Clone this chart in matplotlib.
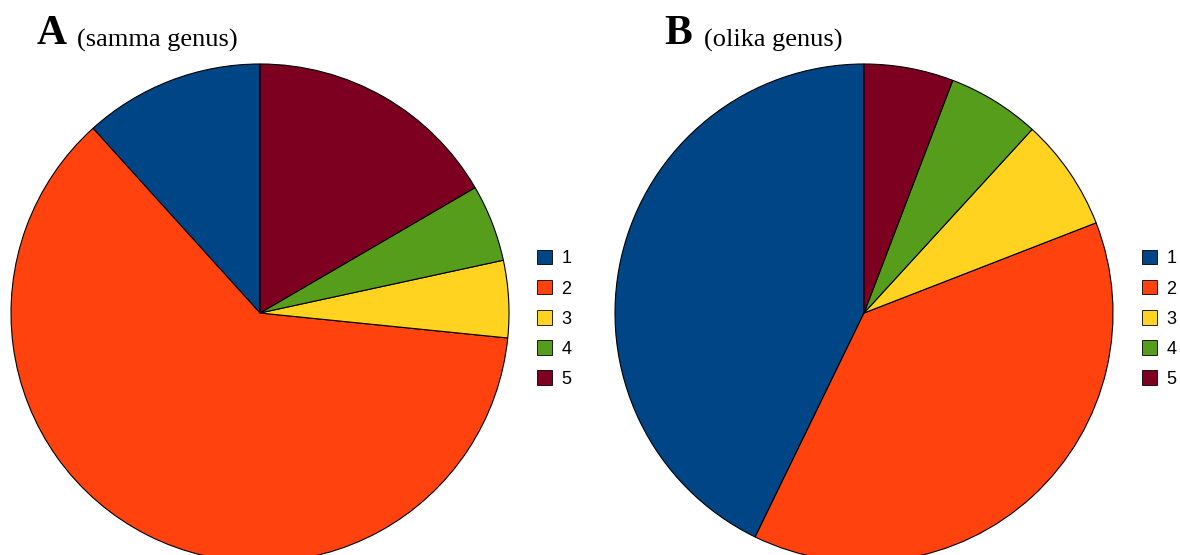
import matplotlib.pyplot as plt
from matplotlib.patches import Patch

labels = ['1', '2', '3', '4', '5']
colors = ['#004586', '#ff420e', '#ffd320', '#579d1c', '#7e0021']
samma = [11.7, 61.7, 5.0, 5.0, 16.6]
olika = [42.8, 38.1, 7.3, 6.0, 5.8]

W, H = 1180, 555
fig = plt.figure(figsize=(W / 100, H / 100), dpi=100)

def pie_axes(cx, cy, r):
    # rect in figure fraction from pixel centre / radius
    return fig.add_axes([(cx - r) / W, (H - cy - r) / H, 2 * r / W, 2 * r / H])

def draw(ax, vals):
    ax.pie(vals, colors=colors, startangle=90, counterclock=True,
           wedgeprops=dict(edgecolor='black', linewidth=0.8))
    ax.set_xlim(-1.0, 1.0)
    ax.set_ylim(-1.0, 1.0)
    ax.axis('off')

axA = pie_axes(260, 313, 249)
draw(axA, samma)
axB = pie_axes(864, 313, 249)
draw(axB, olika)

handles = [Patch(facecolor=c, edgecolor='black', linewidth=0.6) for c in colors]
for x in [537 / W, 1142 / W]:
    fig.legend(handles, labels, loc='upper left', bbox_to_anchor=(x, 1 - 250 / H),
               frameon=False, borderpad=0, borderaxespad=0,
               prop={'family': 'Liberation Sans', 'size': 13},
               handlelength=0.85, handleheight=0.85, handletextpad=0.5, labelspacing=0.7)

for x, big, small in [(37, 'A', '(samma genus)'), (664, 'B', '(olika genus)')]:
    fig.text(x / W, 1 - 44 / H, big, family='Liberation Serif', weight='bold', size=30,
             va='baseline', ha='left')
    fig.text((x + 40) / W, 1 - 47 / H, small, family='Liberation Serif', size=19,
             va='baseline', ha='left')

fig.savefig('out.png', dpi=100)
